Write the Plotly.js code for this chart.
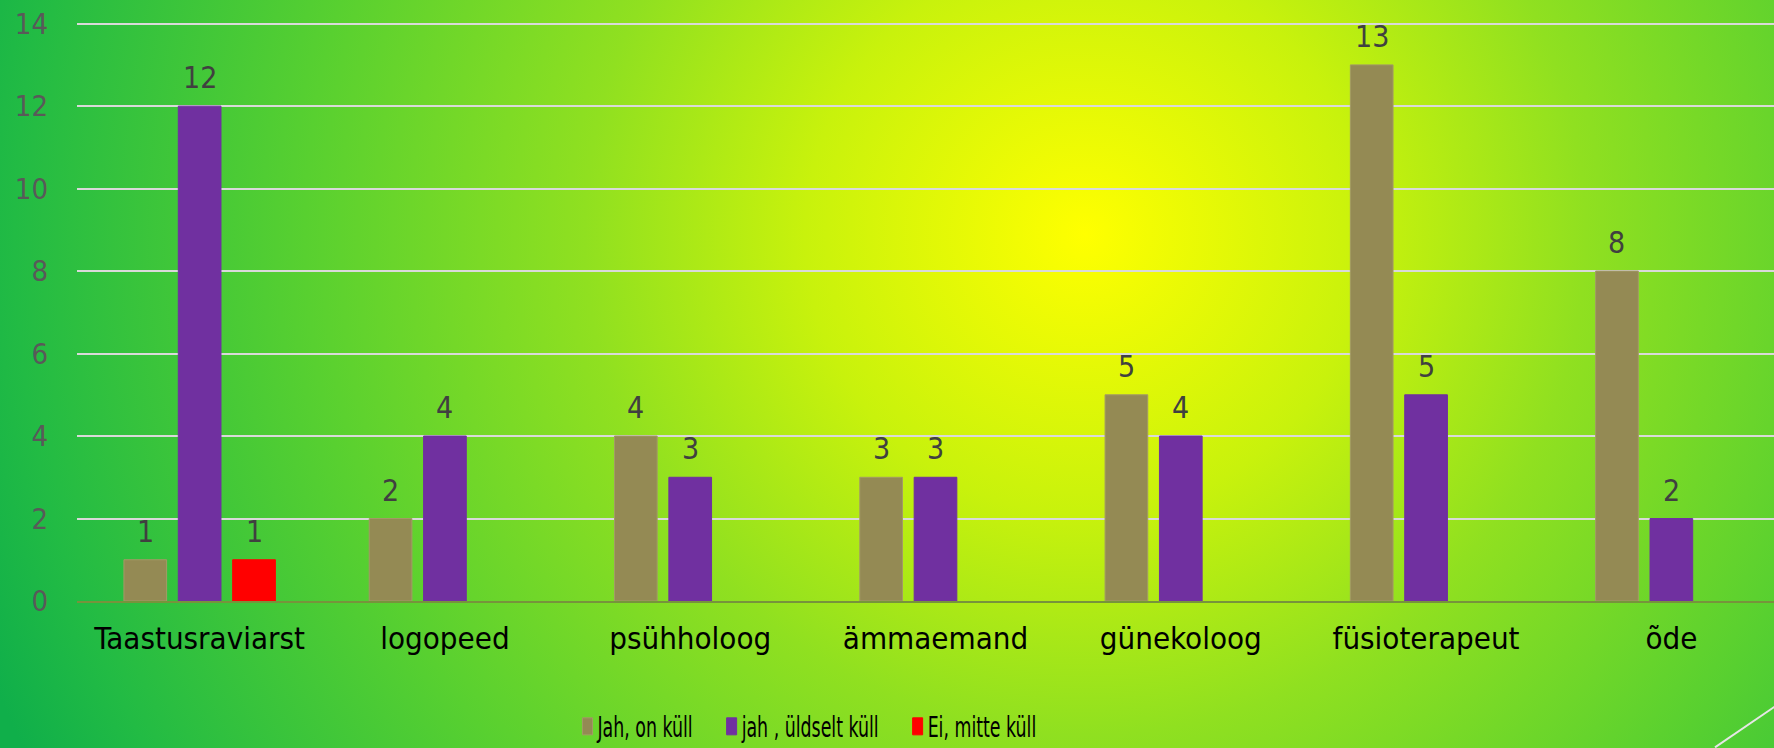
<!DOCTYPE html>
<html>
<head>
<meta charset="utf-8">
<script src="https://cdn.plot.ly/plotly-3.0.1.min.js"></script>
<style>
  html, body { margin: 0; padding: 0; width: 1774px; height: 748px; overflow: hidden; }
  body {
    background: radial-gradient(circle at 1085px 234px, #ffff00 0px, #c8f20c 280px, #90e020 500px, #58d030 780px, #22bb44 1070px, #10af4a 1180px);
  }
  #chart { width: 1794px; height: 748px; }
</style>
</head>
<body>
<div id="chart"></div>
<script>
const categories = ["Taastusraviarst", "logopeed", "psühholoog", "ämmaemand", "günekoloog", "füsioterapeut", "õde"];
const seriesNames = ["Jah, on küll", "jah , üldselt küll", "Ei, mitte küll"];
const jahOnKull = [1, 2, 4, 3, 5, 13, 8];
const jahUldseltKull = [12, 4, 3, 3, 4, 5, 2];
const eiMitteKull = [1, null, null, null, null, null, null];
const yTicks = [0, 2, 4, 6, 8, 10, 12, 14];

const colors = ["#948a54", "#7030a0", "#ff0000"];
const lineColors = ["#a39a66", "#7030a0", "#ff0000"];
const seriesValues = [jahOnKull, jahUldseltKull, eiMitteKull];

const W = 1794, H = 748;
const margin = { l: 77, r: 0, t: 22, b: 147, autoexpand: false };
const bargap = 0.335, bargroupgap = 0.215;
const plotW = W - margin.l - margin.r;
const slotPx = (plotW / categories.length) * (1 - bargap) / seriesValues.length;

const traces = seriesValues.map((vals, i) => ({
  type: "bar",
  name: seriesNames[i],
  x: categories,
  y: vals,
  textposition: "none",
  marker: { color: colors[i], line: { color: lineColors[i], width: 1 } },
  hoverinfo: "x+y+name"
}));

const annotations = [];
seriesValues.forEach((vals, i) => {
  vals.forEach((v, j) => {
    if (v === null) return;
    annotations.push({
      xref: "x", yref: "y",
      x: categories[j], y: v,
      text: String(v),
      showarrow: false,
      yanchor: "bottom",
      xanchor: "center",
      xshift: (i - (seriesValues.length - 1) / 2) * slotPx,
      yshift: 9,
      font: { family: "DejaVu Sans Condensed, DejaVu Sans", size: 30, color: "#404040" }
    });
  });
});

const layout = {
  width: W,
  height: H,
  paper_bgcolor: "rgba(0,0,0,0)",
  plot_bgcolor: "rgba(0,0,0,0)",
  margin: margin,
  barmode: "group",
  bargap: bargap,
  bargroupgap: bargroupgap,
  showlegend: true,
  legend: {
    orientation: "h",
    x: 0.4257,
    xanchor: "center",
    y: -0.217,
    yanchor: "middle",
    font: { family: "DejaVu Sans Condensed, DejaVu Sans", size: 28, color: "#000000" },
    bgcolor: "rgba(0,0,0,0)",
    itemclick: false,
    itemdoubleclick: false
  },
  xaxis: {
    type: "category",
    showgrid: false,
    showline: true,
    linecolor: "#77933c",
    linewidth: 2,
    ticks: "",
    ticklabelstandoff: 9,
    tickfont: { family: "DejaVu Sans Condensed, DejaVu Sans", size: 31, color: "#000000" }
  },
  yaxis: {
    range: [0, 14.04],
    tickvals: yTicks,
    ticktext: yTicks.map(String),
    showgrid: true,
    gridcolor: "#d9d9d9",
    gridwidth: 2,
    zeroline: false,
    showline: false,
    ticks: "",
    ticklabelstandoff: 28,
    tickfont: { family: "DejaVu Sans Condensed, DejaVu Sans", size: 29, color: "#595959" }
  },
  annotations: annotations,
  shapes: [{
    type: "line",
    xref: "paper", yref: "paper",
    x0: (1715 - 77) / 1717, y0: (601.7 - 748) / 578.7,
    x1: (1800 - 77) / 1717, y1: (601.7 - 690) / 578.7,
    line: { color: "#e6e6e6", width: 2 }
  }]
};

// Narrow the legend lettering (the original uses a very condensed face)
function condenseLegend(gd) {
  const squeeze = 0.69, textX = 30, afterText = 19;
  const items = Array.from(gd.querySelectorAll(".legend .traces"));
  if (!items.length) return;
  const info = items.map(el => {
    const m = /translate\(\s*([-\d.]+)[ ,]+([-\d.]+)\s*\)/.exec(el.getAttribute("transform") || "");
    const txt = el.querySelector("text.legendtext");
    const w = txt ? txt.getComputedTextLength() : 0;
    return { el, txt, tx: m ? +m[1] : 0, ty: m ? +m[2] : 0, w };
  });
  const last = info.length - 1;
  const origStart = info[0].tx + 14;
  const origEnd = info[last].tx + 40 + info[last].w;
  const newTx = [info[0].tx];
  for (let k = 1; k < info.length; k++) {
    newTx.push(newTx[k - 1] + textX + info[k - 1].w * squeeze + afterText);
  }
  const newStart = newTx[0] + 15;
  const newEnd = newTx[last] + textX + info[last].w * squeeze;
  const recentre = ((origStart + origEnd) - (newStart + newEnd)) / 2 - 3;
  info.forEach((it, k) => {
    if (it.txt) {
      it.txt.setAttribute("x", textX);
      it.txt.setAttribute("textLength", (it.w * squeeze).toFixed(2));
      it.txt.setAttribute("lengthAdjust", "spacingAndGlyphs");
    }
    it.el.querySelectorAll(".legendpoints path").forEach(p => p.setAttribute("d", "M5,8.5H-5V-8.5H5Z"));
    it.el.setAttribute("transform", "translate(" + (newTx[k] + recentre) + "," + it.ty + ")");
  });
}

Plotly.newPlot("chart", traces, layout, { displayModeBar: false }).then(gd => condenseLegend(gd));
</script>
</body>
</html>
